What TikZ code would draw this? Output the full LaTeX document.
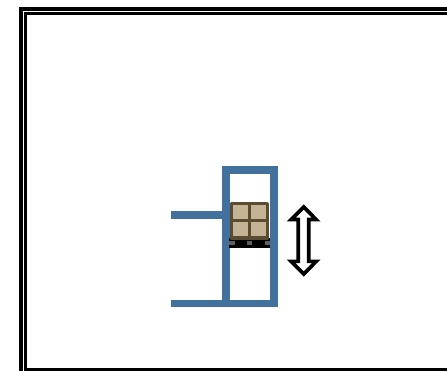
\documentclass[tikz,border=0pt]{standalone}
\definecolor{rackblue}{HTML}{41719C}
\definecolor{boxfill}{HTML}{C4B394}
\definecolor{boxline}{HTML}{5A4B32}
\definecolor{blockgray}{HTML}{5F5F5F}
\tikzset{
  bar/.style={fill=rackblue,draw=none},
  frameline/.style={draw=black,line width=3.3pt,line join=miter},
  cargo/.style={fill=boxfill,draw=boxline,line width=3.4pt,line join=round},
  divider/.style={draw=boxline,line width=3.2pt},
  palletblock/.style={fill=blockgray,draw=none},
  updown/.style={fill=white,draw=black,line width=3.7pt,line join=miter}
}
\begin{document}
\begin{tikzpicture}[x=1pt,y=-1pt]
\useasboundingbox (0,0) rectangle (447,371);
\fill[white] (0,0) rectangle (447,371);
\draw[frameline] (21,375) -- (21,9) -- (452,9);
\draw[frameline] (25.7,369.4) -- (25.7,13.6) -- (452,13.6);
\draw[frameline] (24,369.4) -- (452,369.4);
\fill[bar] (221.7,166.5) rectangle (277.7,174.2);
\fill[bar] (221.7,166.5) rectangle (229.5,307.5);
\fill[bar] (270.2,166.5) rectangle (277.7,307.5);
\fill[bar] (170.5,299.9) rectangle (277.7,307.5);
\fill[bar] (170.5,211.3) rectangle (222,218.7);
\fill[black] (229.4,238) rectangle (270.4,248.5);
\fill[palletblock] (229.4,240.8) rectangle (234.8,245.5);
\fill[palletblock] (246.6,240.8) rectangle (252.2,245.5);
\fill[palletblock] (264.6,240.8) rectangle (270.4,245.5);
\draw[cargo] (231.6,203.3) rectangle (267.4,238);
\draw[divider] (249.5,203) -- (249.5,238);
\draw[divider] (231.6,220.7) -- (267.4,220.7);
\draw[updown] (303.7,207) -- (316.2,219.6) -- (308.8,219.6) -- (308.8,261.4) -- (316.2,261.4)
  -- (303.7,274) -- (291.2,261.4) -- (298.2,261.4) -- (298.2,219.6) -- (291.2,219.6) -- cycle;
\end{tikzpicture}
\end{document}
